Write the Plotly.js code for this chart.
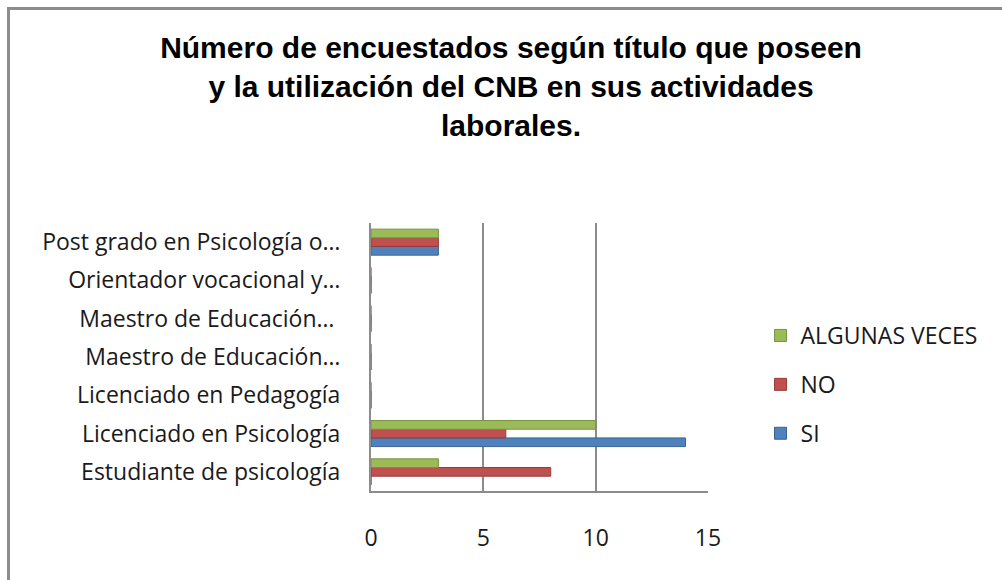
<!DOCTYPE html>
<html>
<head>
<meta charset="utf-8">
<script src="https://cdn.plot.ly/plotly-3.0.1.min.js"></script>
<style>
  body { margin: 0; background: #fff; }
  #chart { position: absolute; left: 0; top: 0; width: 1002px; height: 580px; }
  #frame { position: absolute; left: 7px; top: 7px; width: 1100px; height: 700px;
           border-left: 3px solid #8c8c8c; border-top: 3px solid #8c8c8c; pointer-events: none; }
</style>
</head>
<body>
<div id="chart"></div>
<div id="frame"></div>
<script>
// categories bottom -> top, as the chart reads
const titulos = [
  'Estudiante de psicología',
  'Licenciado en Psicología',
  'Licenciado en Pedagogía',
  'Maestro de Educación…',
  'Maestro de Educación… ',
  'Orientador vocacional y…',
  'Post grado en Psicología o…',
];
const si = [0, 14, 0, 0, 0, 0, 3];
const no = [8, 6, 0, 0, 0, 0, 3];
const algunas = [3, 10, 0, 0, 0, 0, 3];
const xTicks = [0, 5, 10, 15];

const lbl = { family: '"Open Sans", Lato, sans-serif', size: 23, color: '#1a1a1a' };

function serie(name, vals, color, edge, rank) {
  return {
    type: 'bar', orientation: 'h', name, x: vals, y: titulos,
    legendgroup: name, legendrank: rank,
    marker: { color, line: { color: edge, width: 1 } },
    hoverinfo: 'x+name',
  };
}

const traces = [
  serie('SI', si, '#4f81bd', '#3a6496', 3),
  serie('NO', no, '#c0504d', '#963c3a', 2),
  serie('ALGUNAS VECES', algunas, '#9bbb59', '#76923f', 1),
];

Plotly.newPlot('chart', traces, {
  width: 1002, height: 580,
  paper_bgcolor: '#fff', plot_bgcolor: '#fff',
  margin: { l: 371, r: 294, t: 223, b: 89 },
  barmode: 'group', bargap: 0.32, bargroupgap: 0,
  title: {
    text: 'Número de encuestados según título que poseen<br>y la utilización del CNB en sus actividades<br>laborales.',
    font: { family: '"Liberation Sans", Arial, sans-serif', size: 30, color: '#000', weight: 'bold' },
    x: 0.51, xanchor: 'center', y: 0.9, yanchor: 'top', yref: 'container',
  },
  xaxis: {
    range: [0, 15], tickvals: xTicks, ticktext: xTicks.map(String),
    showgrid: true, gridcolor: '#8c8c8c', gridwidth: 2,
    showline: true, linecolor: '#8c8c8c', linewidth: 2,
    zeroline: false, ticks: 'outside', ticklen: 25, tickcolor: 'rgba(0,0,0,0)',
    tickfont: lbl, fixedrange: true,
  },
  yaxis: {
    type: 'category', range: [-0.5, 6.5],
    showline: true, linecolor: '#8c8c8c', linewidth: 2, showgrid: false,
    ticks: 'outside', ticklen: 24, tickcolor: 'rgba(0,0,0,0)',
    tickfont: lbl, fixedrange: true,
  },
  showlegend: true,
  legend: {
    traceorder: 'grouped', tracegroupgap: 16,
    xref: 'container', yref: 'container', x: 0.759, y: 1 - 314 / 580,
    xanchor: 'left', yanchor: 'top',
    font: lbl, itemwidth: 30, bgcolor: 'rgba(0,0,0,0)',
  },
}, { displayModeBar: false, staticPlot: true });
</script>
</body>
</html>
